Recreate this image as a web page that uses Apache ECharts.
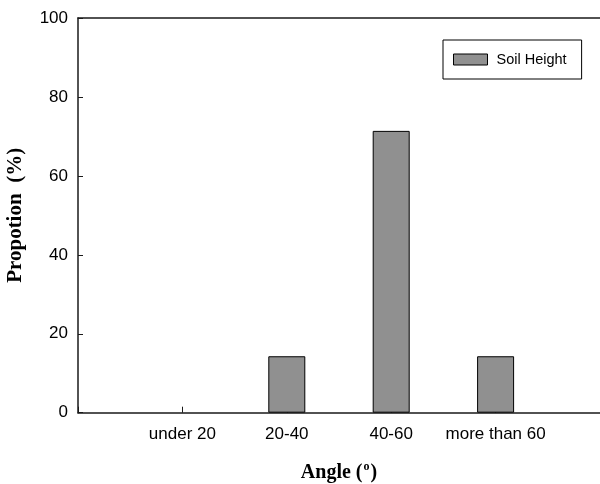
<!DOCTYPE html>
<html>
<head>
<meta charset="utf-8">
<script src="https://cdn.jsdelivr.net/npm/echarts@6/dist/echarts.min.js"></script>
<style>html,body{margin:0;padding:0;background:#fff;}#c{width:600px;height:484px;}</style>
</head>
<body>
<div id="c"></div>
<script>
var categories = ['', 'under 20', '20-40', '40-60', 'more than 60', ''];
var soilHeight = [null, 0, 14.3, 71.4, 14.3, null];
var yTicks = [0, 20, 40, 60, 80, 100];
var seriesName = 'Soil Height';

var chart = echarts.init(document.getElementById('c'), null, {renderer: 'canvas'});
var axisColor = '#1a1a1a';
var barData = soilHeight.map(function (v) {
  return v === 0 ? {value: v, itemStyle: {borderWidth: 0}} : v;
});
chart.setOption({
  animation: false,
  backgroundColor: '#fff',
  grid: {left: 78, right: 0, top: 18, bottom: 71.3, containLabel: false, outerBoundsMode: 'none'},
  legend: {
    data: [seriesName],
    left: 443, top: 40,
    orient: 'vertical',
    icon: 'rect',
    backgroundColor: '#fff',
    borderColor: '#000', borderWidth: 1,
    padding: [12, 15, 12, 10],
    itemWidth: 34, itemHeight: 11,
    itemStyle: {borderWidth: 1, borderColor: '#000'},
    textStyle: {fontFamily: 'Liberation Sans', fontSize: 14.5, color: '#000', padding: [0, 0, 0, 4]}
  },
  xAxis: [{
    type: 'category',
    data: categories,
    boundaryGap: false,
    axisLine: {lineStyle: {color: axisColor, width: 1.5}},
    axisTick: {inside: true, length: 6, interval: 0, lineStyle: {color: axisColor, width: 1}},
    axisLabel: {interval: 0, fontFamily: 'Liberation Sans', fontSize: 17, color: '#000', margin: 13, hideOverlap: false},
    name: 'Angle ({sup|o})',
    nameLocation: 'middle',
    nameGap: 48,
    nameTextStyle: {
      fontFamily: 'Liberation Serif', fontWeight: 'bold', fontSize: 20, color: '#000',
      rich: {sup: {fontFamily: 'Liberation Serif', fontSize: 12, fontWeight: 'bold', verticalAlign: 'top', padding: [0, 1, 12, 1], color: '#000'}}
    },
    splitLine: {show: false}
  }, {
    type: 'category',
    data: categories,
    position: 'top',
    boundaryGap: false,
    axisLine: {lineStyle: {color: axisColor, width: 1.5}},
    axisTick: {show: false},
    axisLabel: {show: false},
    splitLine: {show: false}
  }],
  yAxis: {
    type: 'value',
    position: 'left',
    min: yTicks[0], max: yTicks[yTicks.length - 1], interval: 20,
    axisLine: {show: true, lineStyle: {color: axisColor, width: 1.5}},
    axisTick: {show: true, inside: true, length: 5, lineStyle: {color: axisColor, width: 1}},
    axisLabel: {inside: false, fontFamily: 'Liberation Sans', fontSize: 17, color: '#000', margin: 10},
    splitLine: {show: false},
    name: 'Propotion  (%)',
    nameLocation: 'middle',
    nameGap: 52,
    nameTextStyle: {fontFamily: 'Liberation Serif', fontWeight: 'bold', fontSize: 21, color: '#000'}
  },
  series: [{
    name: seriesName,
    type: 'bar',
    data: barData,
    barWidth: 37,
    itemStyle: {color: '#909090', borderColor: '#000', borderWidth: 1}
  }]
});
</script>
</body>
</html>
